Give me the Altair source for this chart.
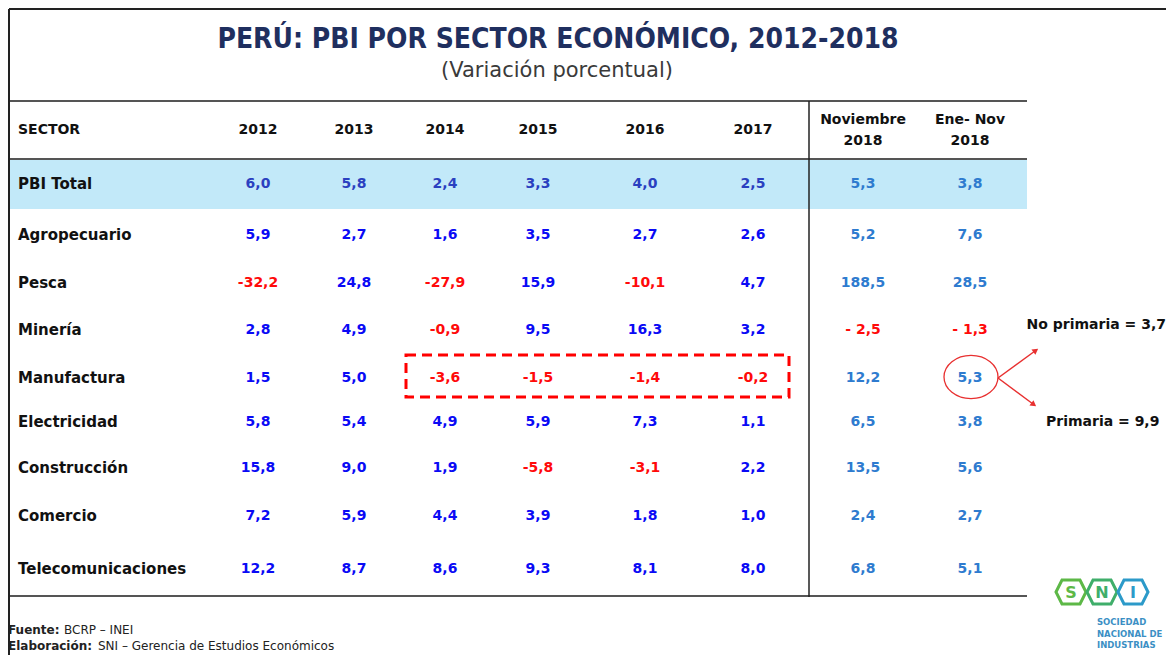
import altair as alt
import pandas as pd

# ---------------- data ----------------
TITLE = "PERÚ: PBI POR SECTOR ECONÓMICO, 2012-2018"
SUBTITLE = "(Variación porcentual)"
SECTOR_HEADER = "SECTOR"
SECTORS = ["PBI Total", "Agropecuario", "Pesca", "Minería", "Manufactura",
           "Electricidad", "Construcción", "Comercio", "Telecomunicaciones"]
COLUMNS = ["2012", "2013", "2014", "2015", "2016", "2017",
           "Noviembre\n2018", "Ene- Nov\n2018"]
V2012 = [6.0, 5.9, -32.2, 2.8, 1.5, 5.8, 15.8, 7.2, 12.2]
V2013 = [5.8, 2.7, 24.8, 4.9, 5.0, 5.4, 9.0, 5.9, 8.7]
V2014 = [2.4, 1.6, -27.9, -0.9, -3.6, 4.9, 1.9, 4.4, 8.6]
V2015 = [3.3, 3.5, 15.9, 9.5, -1.5, 5.9, -5.8, 3.9, 9.3]
V2016 = [4.0, 2.7, -10.1, 16.3, -1.4, 7.3, -3.1, 1.8, 8.1]
V2017 = [2.5, 2.6, 4.7, 3.2, -0.2, 1.1, 2.2, 1.0, 8.0]
VNOV2018 = [5.3, 5.2, 188.5, -2.5, 12.2, 6.5, 13.5, 2.4, 6.8]
VENENOV2018 = [3.8, 7.6, 28.5, -1.3, 5.3, 3.8, 5.6, 2.7, 5.1]
NOTE_TOP = "No primaria = 3,7"
NOTE_BOTTOM = "Primaria = 9,9"
FOOT1 = ("Fuente:", "BCRP – INEI")
FOOT2 = ("Elaboración:", "SNI – Gerencia de Estudios Económicos")
LOGO_LETTERS = ["S", "N", "I"]
LOGO_TEXT = ["SOCIEDAD", "NACIONAL DE", "INDUSTRIAS"]

SERIES = [V2012, V2013, V2014, V2015, V2016, V2017, VNOV2018, VENENOV2018]

# ---------------- layout / style ----------------
W, H = 1159, 647
OX, OY = 8, 8


def px(x):
    return x - OX


def py(y):
    return y - OY


COL_X = [258, 354, 445, 538, 645, 753, 863, 970]
ROW_Y = [184, 235, 283, 330, 378, 422, 468, 516, 569]
FONT = "DejaVu Sans"
COND = "DejaVu Sans Condensed, sans-serif"

records = []
for ci, vals in enumerate(SERIES):
    recent = ci >= 6
    for ri, v in enumerate(vals):
        s = f"{abs(v):.1f}".replace(".", ",")
        if v < 0:
            s = ("- " if recent else "-") + s
            kind = "neg"
        elif recent:
            kind = "recent"
        elif ri == 0:
            kind = "total"
        else:
            kind = "pos"
        records.append({"ci": ci, "ri": ri, "label": s, "kind": kind})
cells = pd.DataFrame(records)

sectors_df = pd.DataFrame({"ri": list(range(len(SECTORS))), "name": SECTORS})
hdr_single = pd.DataFrame([{"ci": i, "t": c} for i, c in enumerate(COLUMNS) if "\n" not in c])
hdr_l1 = pd.DataFrame([{"ci": i, "t": c.split("\n")[0]} for i, c in enumerate(COLUMNS) if "\n" in c])
hdr_l2 = pd.DataFrame([{"ci": i, "t": c.split("\n")[1]} for i, c in enumerate(COLUMNS) if "\n" in c])

xs = alt.Scale(domain=list(range(len(COLUMNS))), range=[px(x) for x in COL_X], zero=False, nice=False)
ys = alt.Scale(domain=list(range(len(SECTORS))), range=[py(y) for y in ROW_Y], zero=False, nice=False)
X = alt.X("ci:Q", scale=xs, axis=None)
Y = alt.Y("ri:Q", scale=ys, axis=None)

ONE = alt.Data(values=[{"a": 1}])


def rule(x1, y1, x2, y2, color="#333333", w=2.0, dash=None):
    kw = dict(color=color, strokeWidth=w)
    if dash:
        kw["strokeDash"] = dash
    return alt.Chart(ONE).mark_rule(**kw).encode(
        x=alt.value(px(x1)), y=alt.value(py(y1)), x2=alt.value(px(x2)), y2=alt.value(py(y2)))


def text(t, x, y, size, color="#111111", weight="normal", align="left", font=FONT):
    return alt.Chart(ONE).mark_text(
        text=t, fontSize=size, font=font, fontWeight=weight, color=color,
        align=align, baseline="middle").encode(x=alt.value(px(x)), y=alt.value(py(y)))


layers = []
# frame
layers.append(rule(9, 9, 1166, 9, "#222222", 2))
layers.append(rule(9, 9, 9, 655, "#222222", 2))
# band
layers.append(alt.Chart(ONE).mark_rect(color="#C2E9F9").encode(
    x=alt.value(px(10)), x2=alt.value(px(1027)), y=alt.value(py(160)), y2=alt.value(py(209))))
# table rules
layers.append(rule(10, 101, 1027, 101, "#555555", 2))
layers.append(rule(10, 159, 1027, 159, "#555555", 2))
layers.append(rule(10, 596, 1027, 596, "#555555", 2))
layers.append(rule(809, 101, 809, 597, "#222222", 1.5))

# title
layers.append(text(TITLE, 558, 40, 28, "#1F2F5F", "bold", "center", COND))
layers.append(text(SUBTITLE, 557, 71, 21, "#3A3A3A", "normal", "center"))

# headers
layers.append(text(SECTOR_HEADER, 18, 130, 14, "#111111", "bold"))
hstyle = dict(font=FONT, fontSize=14, fontWeight="bold", color="#111111", align="center", baseline="middle")
layers.append(alt.Chart(hdr_single).mark_text(**hstyle).encode(x=X, y=alt.value(py(130)), text="t:N"))
layers.append(alt.Chart(hdr_l1).mark_text(**hstyle).encode(x=X, y=alt.value(py(120)), text="t:N"))
layers.append(alt.Chart(hdr_l2).mark_text(**hstyle).encode(x=X, y=alt.value(py(141)), text="t:N"))

# sector labels
layers.append(alt.Chart(sectors_df).mark_text(
    font=FONT, fontSize=15, fontWeight="bold", color="#111111", align="left", baseline="middle"
).encode(x=alt.value(px(18)), y=Y, text="name:N"))

# cell values
layers.append(alt.Chart(cells).mark_text(
    font=FONT, fontSize=14, fontWeight="bold", align="center", baseline="middle"
).encode(
    x=X, y=Y, text="label:N",
    color=alt.Color("kind:N", legend=None, scale=alt.Scale(
        domain=["pos", "neg", "total", "recent"],
        range=["#0A0AF5", "#FF0A0A", "#2A40C0", "#2E7BCF"]))))

# dashed highlight box
layers.append(alt.Chart(ONE).mark_rect(
    fill=None, fillOpacity=0, stroke="#FF0000", strokeWidth=3, strokeDash=[10, 6]
).encode(x=alt.value(px(406)), x2=alt.value(px(789)), y=alt.value(py(355)), y2=alt.value(py(397))))

# ellipse around 5,3
ELLIPSE = "M -1 0 A 1 0.8 0 1 0 1 0 A 1 0.8 0 1 0 -1 0 Z"
layers.append(alt.Chart(ONE).mark_point(
    shape=ELLIPSE, size=2916, filled=False, color="#E83030", strokeWidth=1.3, opacity=1
).encode(x=alt.value(px(971)), y=alt.value(py(377))))

# arrows
layers.append(rule(998, 378, 1035, 351, "#E83030", 1.5))
layers.append(rule(998, 378, 1033, 404, "#E83030", 1.5))
layers.append(alt.Chart(ONE).mark_point(shape="triangle", filled=True, color="#E83030", size=45, angle=54, opacity=1
                                        ).encode(x=alt.value(px(1035)), y=alt.value(py(351))))
layers.append(alt.Chart(ONE).mark_point(shape="triangle", filled=True, color="#E83030", size=45, angle=127, opacity=1
                                        ).encode(x=alt.value(px(1033)), y=alt.value(py(404))))
layers.append(text(NOTE_TOP, 1166, 325, 14, "#111111", "bold", "right"))
layers.append(text(NOTE_BOTTOM, 1046, 422, 14, "#111111", "bold", "left"))

# footer
layers.append(text(FOOT1[0], 8, 630, 12, "#222222", "bold"))
layers.append(text(FOOT1[1], 64, 630, 12, "#222222"))
layers.append(text(FOOT2[0], 8, 646, 12, "#222222", "bold"))
layers.append(text(FOOT2[1], 98, 646, 12, "#222222"))

# logo
HEX = "M -1 0 L -0.6 -0.8 L 0.6 -0.8 L 1 0 L 0.6 0.8 L -0.6 0.8 Z"
LOGO_COL = ["#5DB847", "#3FAE6A", "#2C9AC9"]
LOGO_X = [1071, 1102, 1133]
for lx, lc, letter in zip(LOGO_X, LOGO_COL, LOGO_LETTERS):
    layers.append(alt.Chart(ONE).mark_point(shape=HEX, size=900, filled=False, color=lc, strokeWidth=3, opacity=1
                                            ).encode(x=alt.value(px(lx)), y=alt.value(py(592))))
    layers.append(text(letter, lx, 593, 16, lc, "bold", "center"))
for i, t in enumerate(LOGO_TEXT):
    layers.append(text(t, 1097, 622 + 11.5 * i, 8.5, "#3B8FC4", "bold", "left"))

chart = alt.layer(*layers).properties(
    width=W, height=H, padding=0, autosize=alt.AutoSizeParams(type="none"), background="white"
).configure_view(stroke=None)

chart.save("out.html", embed_options={"renderer": "svg", "actions": False})
